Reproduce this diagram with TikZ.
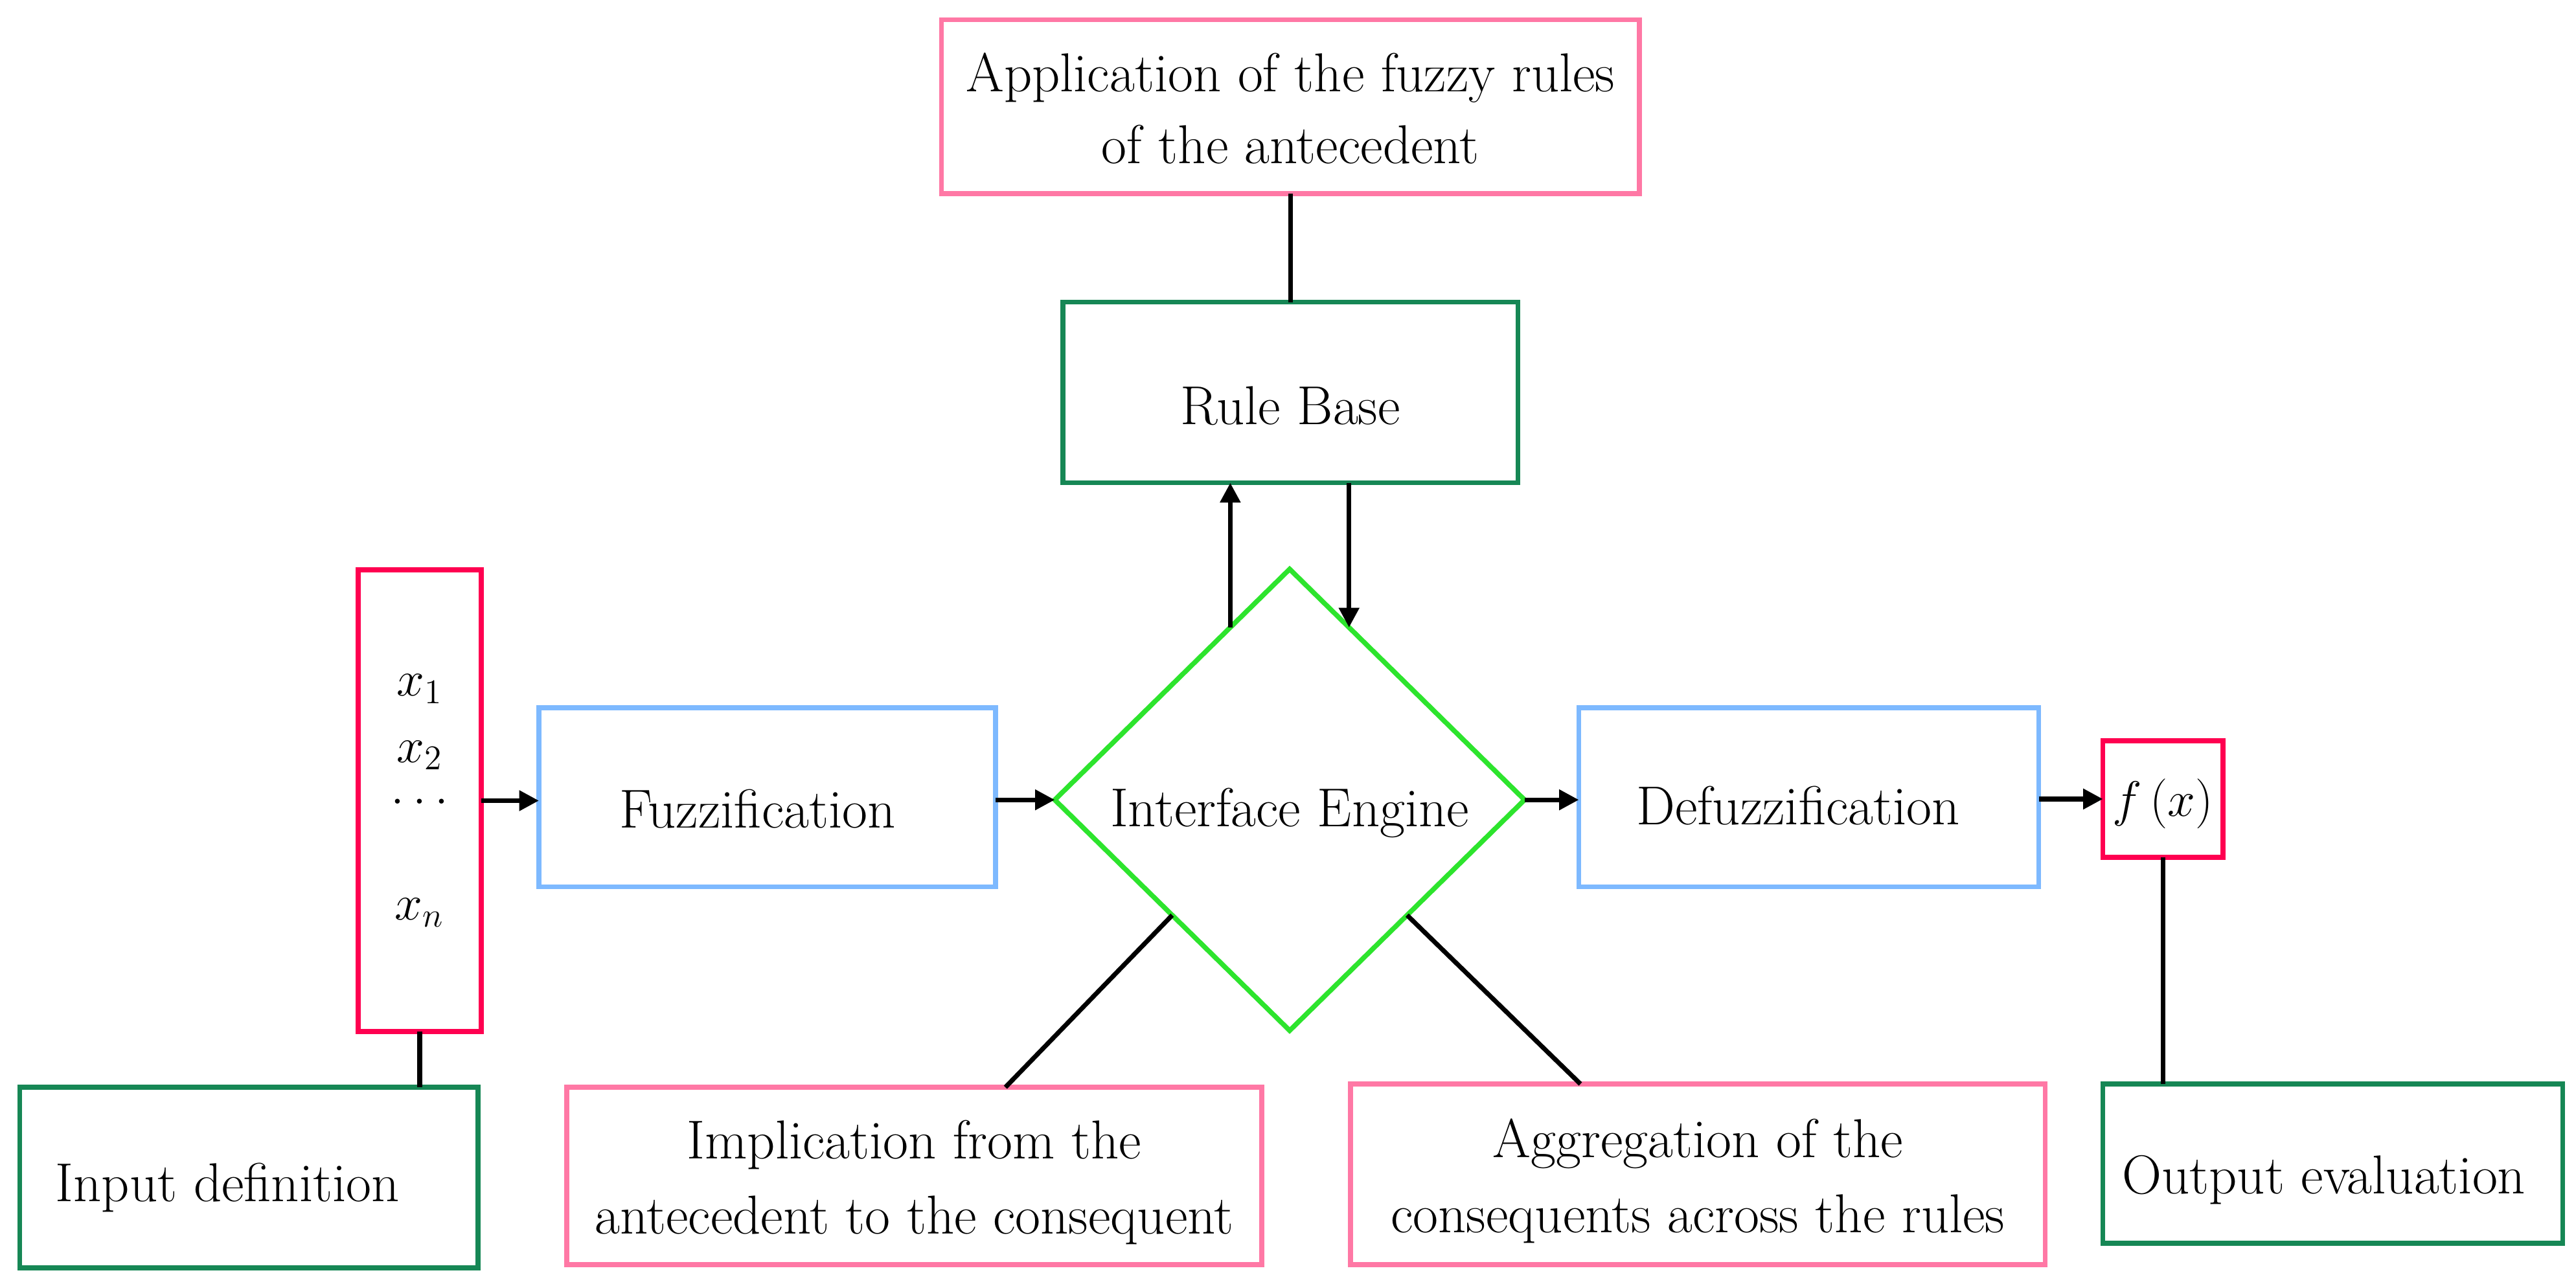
\documentclass[tikz,border=0pt]{standalone}
\usetikzlibrary{shapes.geometric,arrows.meta,calc}
\definecolor{cred}{RGB}{255,0,80}
\definecolor{cpink}{RGB}{255,120,165}
\definecolor{cgreen}{RGB}{22,135,85}
\definecolor{cblue}{RGB}{125,185,255}
\definecolor{cdia}{RGB}{45,228,45}
\newcommand{\lowered}[2]{\raisebox{-#1}[\height][\depth]{#2}}
\tikzset{
  box/.style={draw, rectangle, line width=1.7pt, inner sep=0pt, outer sep=0pt, align=center},
  pinkbox/.style={box, draw=cpink},
  greenbox/.style={box, draw=cgreen},
  bluebox/.style={box, draw=cblue},
  redbox/.style={box, draw=cred},
  conn/.style={draw=black, line width=1.6pt},
  arr/.style={conn, -{Triangle[length=0.24cm,width=0.24cm]}},
}
\begin{document}
\begin{tikzpicture}[x=0.02cm,y=-0.02cm, font=\fontsize{19}{23.3}\selectfont]
\useasboundingbox (0,0) rectangle (1568,783);

\node[pinkbox, minimum width=8.5cm, minimum height=2.12cm] (app) at (785.5,65) {Application of the fuzzy rules\\[0.02cm]\lowered{0.04cm}{of the antecedent}};
\node[greenbox, minimum width=5.54cm, minimum height=2.2cm] (rule) at (785.5,239) {\lowered{0.16cm}{Rule Base}};
\node[redbox, minimum width=1.5cm, minimum height=5.62cm, font=\fontsize{17}{23}\selectfont] (inp) at (255.5,487.5) {$x_{1}$\\$x_{2}$\\[-0.3cm]$\dots$\\[0.6cm]$x_{n}$};
\node[bluebox, minimum width=5.56cm, minimum height=2.18cm] (fuzz) at (467,485.5) {\lowered{0.14cm}{Fuzzification}\hspace*{0.24cm}};
\node[draw=cdia, diamond, line width=1.7pt, inner sep=0pt, outer sep=0pt, minimum width=5.72cm, minimum height=5.62cm] (d) at (785,487) {\lowered{0.16cm}{Interface Engine}};
\node[bluebox, minimum width=5.6cm, minimum height=2.18cm] (defuzz) at (1101,485.5) {\lowered{0.1cm}{Defuzzification}\hspace*{0.26cm}};
\node[redbox, minimum width=1.46cm, minimum height=1.42cm, font=\fontsize{17}{23}\selectfont] (fx) at (1316.5,486.5) {\lowered{0.06cm}{$f\,(x)$}};
\node[greenbox, minimum width=5.6cm, minimum height=1.94cm] (out) at (1420,708.5) {\lowered{0.2cm}{Output evaluation}\hspace*{0.22cm}};
\node[greenbox, minimum width=5.58cm, minimum height=2.2cm] (indef) at (151.5,717) {\lowered{0.12cm}{Input definition}\hspace*{0.52cm}};
\node[pinkbox, minimum width=8.46cm, minimum height=2.16cm] (impl) at (556.5,716) {\lowered{0.08cm}{Implication from the}\\[0.1cm]\lowered{0.08cm}{antecedent to the consequent}};
\node[pinkbox, minimum width=8.46cm, minimum height=2.2cm] (aggr) at (1033.5,715) {\lowered{0.08cm}{Aggregation of the}\\[0.1cm]\lowered{0.08cm}{consequents across the rules}};

\coordinate (c1) at (612,662);
\coordinate (c2) at (962,660);

\draw[conn] (app.south) -- (rule.north);
\draw[arr] (d.109.6) -- (d.109.6 |- rule.south);
\draw[arr] (d.71.9 |- rule.south) -- (d.71.9);
\draw[arr] (inp.east) -- (inp.east -| fuzz.west);
\draw[arr] (fuzz.east |- d.west) -- (d.west);
\draw[arr] (d.east) -- (d.east -| defuzz.west);
\draw[arr] (defuzz.east |- fx.west) -- (fx.west);
\draw[conn] (fx.south) -- (fx.south |- out.north);
\draw[conn] (inp.south) -- (inp.south |- indef.north);
\draw[conn] (d.south west) -- (c1);
\draw[conn] (d.south east) -- (c2);
\end{tikzpicture}
\end{document}
